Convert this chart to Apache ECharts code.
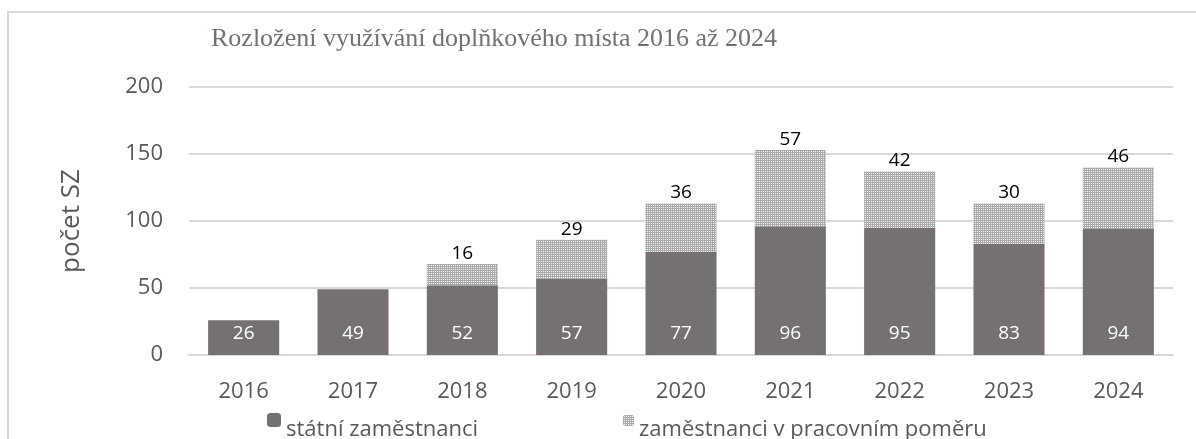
<!DOCTYPE html>
<html>
<head>
<meta charset="utf-8">
<script src="https://cdn.jsdelivr.net/npm/echarts@6/dist/echarts.min.js"></script>
<style>
html,body{margin:0;padding:0;background:#fff;}
#c{width:1196px;height:439px;}
</style>
</head>
<body>
<div id="c"></div>
<script>
const titleText = 'Rozložení využívání doplňkového místa 2016 až 2024';
const yAxisName = 'počet SZ';
const categories = ['2016','2017','2018','2019','2020','2021','2022','2023','2024'];
const seriesNames = ['státní zaměstnanci','zaměstnanci v pracovním poměru'];
const statniValues = [26,49,52,57,77,96,95,83,94];
const pracovniValues = [0,0,16,29,36,57,42,30,46];
const yTicks = [0,50,100,150,200];

function makePattern(){
  const c = document.createElement('canvas');
  c.width = 2; c.height = 2;
  const ctx = c.getContext('2d');
  ctx.fillStyle = '#a9a9a9';
  ctx.fillRect(0,0,2,2);
  ctx.fillStyle = '#f4f4f4';
  ctx.fillRect(1,1,1,1);
  return c;
}
const pattern = {image: makePattern(), repeat: 'repeat'};

const font = '"Open Sans", "Noto Sans", sans-serif';
const legendRich = {a:{fontFamily:font, fontSize:22, color:'#595959', padding:[19,0,0,0]}};
const chart = echarts.init(document.getElementById('c'), null, {renderer:'canvas'});
chart.setOption({
  animation:false,
  backgroundColor:'#fff',
  graphic:[{
    type:'rect', shape:{x:8,y:12,width:1400,height:700},
    style:{fill:'none',stroke:'#d9d9d9',lineWidth:2}, silent:true, z:-1
  }],
  title:{
    text:titleText, left:206, top:21,
    textStyle:{fontFamily:'"Liberation Serif", "DejaVu Serif", serif', fontSize:26, fontWeight:'normal', color:'#767171'}
  },
  grid:{left:189, right:23, top:87, bottom:84, containLabel:false},
  legend:[
    {data:[seriesNames[0]], left:267, top:413, padding:0, itemWidth:14, itemHeight:14,
     formatter:n=>'{a|'+n+'}',
     textStyle:{fontFamily:font, fontSize:22, color:'#595959', rich:legendRich}},
    {data:[seriesNames[1]], left:623, top:415, padding:0, itemWidth:11, itemHeight:11,
     formatter:n=>'{a|'+n+'}',
     textStyle:{fontFamily:font, fontSize:22, color:'#595959', rich:legendRich}}
  ],
  xAxis:{
    type:'category', data:categories,
    axisLine:{lineStyle:{color:'#d9d9d9', width:2}},
    axisTick:{show:false},
    axisLabel:{fontFamily:font, fontSize:22, color:'#595959', margin:26}
  },
  yAxis:{
    type:'value', min:yTicks[0], max:yTicks[yTicks.length-1], interval:50,
    name:yAxisName, nameLocation:'middle', nameGap:104, nameRotate:90,
    nameTextStyle:{fontFamily:font, fontSize:26, color:'#595959'},
    axisLine:{show:false}, axisTick:{show:false},
    axisLabel:{fontFamily:font, fontSize:22, color:'#595959', margin:26},
    splitLine:{lineStyle:{color:'#d9d9d9', width:2}}
  },
  series:[
    {
      name:seriesNames[0], type:'bar', stack:'a', data:statniValues, barWidth:'65%',
      itemStyle:{color:'#767171'},
      label:{show:true, position:'insideBottom', distance:12, color:'#fff', fontFamily:font, fontSize:19}
    },
    {
      name:seriesNames[1], type:'bar', stack:'a', data:pracovniValues, barWidth:'65%',
      itemStyle:{color:pattern},
      label:{show:true, position:'top', distance:1, color:'#000', fontFamily:font, fontSize:19,
        formatter:p=>p.value ? String(p.value) : ''}
    }
  ]
});
</script>
</body>
</html>
